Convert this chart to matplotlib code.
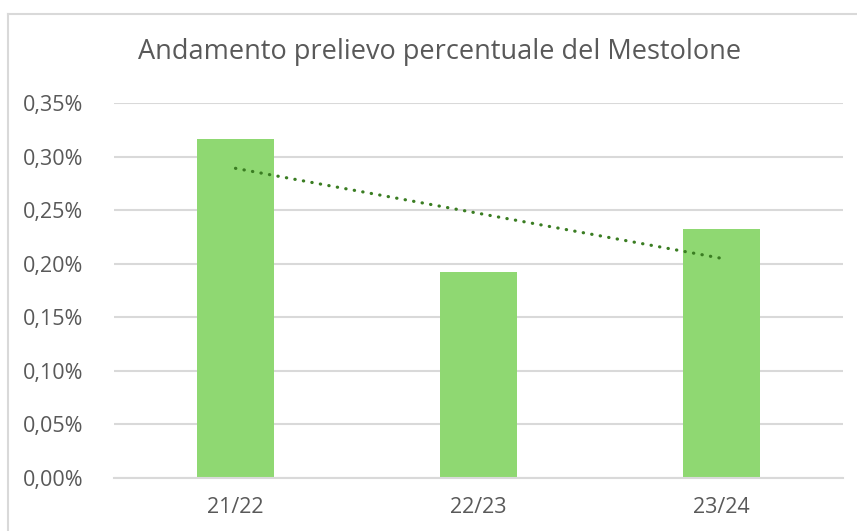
import numpy as np
import matplotlib.pyplot as plt
from matplotlib.ticker import FuncFormatter, MultipleLocator
from matplotlib.lines import Line2D

# dati (percentuali)
stagioni = ['21/22', '22/23', '23/24']
prelievo = [0.3164, 0.1923, 0.2324]

plt.rcParams['font.family'] = ['Open Sans', 'DejaVu Sans']

fig = plt.figure(figsize=(8.57, 5.31), dpi=100)
ax = fig.add_axes([114 / 857, 1 - 478 / 531, 729 / 857, 375 / 531])

x = np.arange(len(stagioni))
ax.bar(x, prelievo, width=0.313, color='#8fd872', zorder=2)

# linea di tendenza lineare
coef = np.polyfit(x, prelievo, 1)
ax.plot(x, np.polyval(coef, x), color='#3a7d22', linestyle=(0, (0.1, 2.6)),
        linewidth=2.3, dash_capstyle='round', zorder=3)

ax.set_xlim(-0.5, 2.5)
ax.set_ylim(0, 0.35)
ax.yaxis.set_major_locator(MultipleLocator(0.05))
ax.yaxis.set_major_formatter(FuncFormatter(lambda v, p: f'{v:.2f}%'.replace('.', ',')))
ax.set_xticks(x)
ax.set_xticklabels(stagioni)

ax.grid(axis='y', color='#d9d9d9', linewidth=1.5, zorder=0)
ax.set_axisbelow(True)
for s in ['top', 'right', 'left']:
    ax.spines[s].set_visible(False)
ax.spines['bottom'].set_color('#d9d9d9')
ax.spines['bottom'].set_linewidth(1.5)
ax.tick_params(length=0, labelsize=15.5, colors='#595959')
ax.tick_params(axis='y', pad=22)
ax.tick_params(axis='x', pad=14)

fig.text(440 / 857, 1 - 52 / 531, 'Andamento prelievo percentuale del Mestolone',
         ha='center', va='center', fontsize=19.5, color='#595959')

# bordo del grafico
fig.add_artist(Line2D([8 / 857, 8 / 857], [0, 1 - 14 / 531], color='#d9d9d9', linewidth=1.5))
fig.add_artist(Line2D([8 / 857, 1], [1 - 14 / 531, 1 - 14 / 531], color='#d9d9d9', linewidth=1.5))

fig.savefig('out.png', dpi=100, facecolor='white')
